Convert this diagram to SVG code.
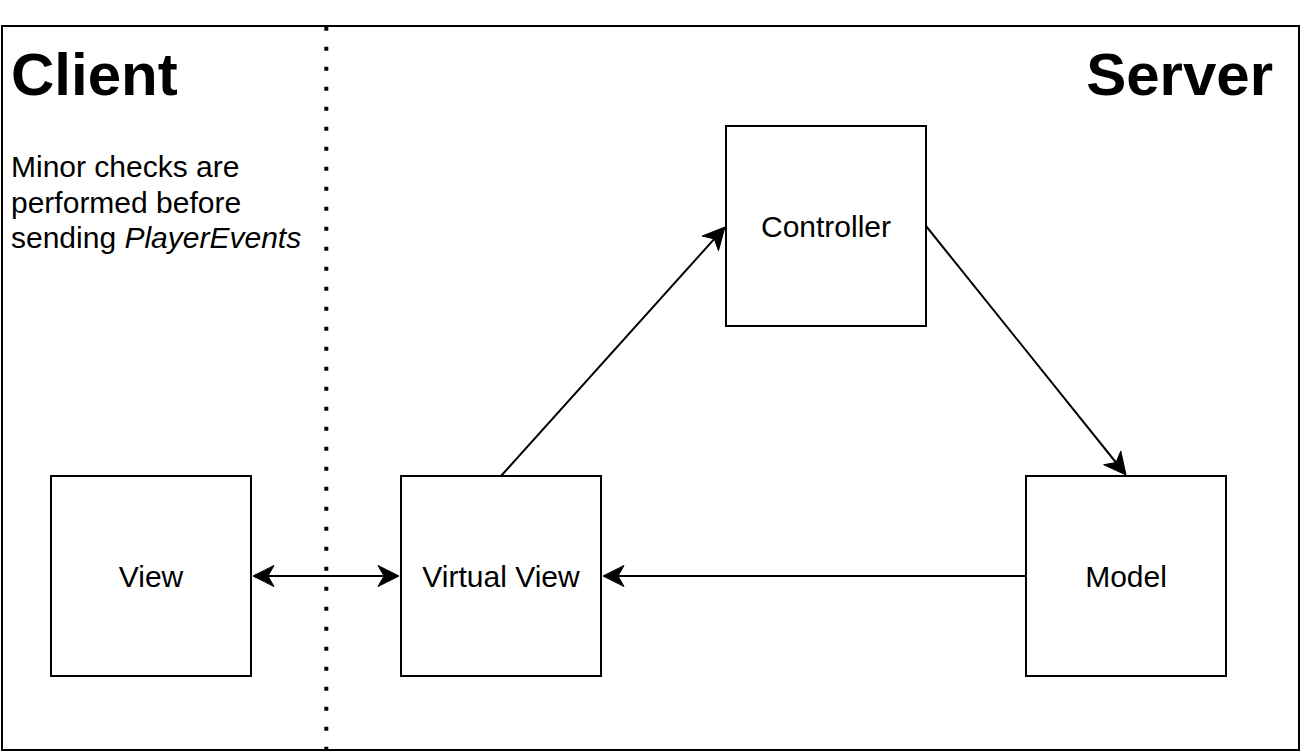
<svg xmlns="http://www.w3.org/2000/svg" width="1305" height="755" viewBox="0 0 1305 755">
<style>
.box{fill:#fff;stroke:#000;stroke-width:2}
.lbl{font-family:"Liberation Sans",Arial,sans-serif;font-size:30px;fill:#000;text-anchor:middle}
.title{font-family:"Liberation Sans",Arial,sans-serif;font-size:60px;font-weight:bold;fill:#000}
.note{font-family:"Liberation Sans",Arial,sans-serif;font-size:30px;fill:#000}
.edge{fill:none;stroke:#000;stroke-width:2}
.head{fill:#000;stroke:#000;stroke-width:1;stroke-linejoin:miter}
</style>
<rect width="1305" height="755" fill="#fff"/>
<g id="frame">
<rect x="2" y="26" width="1297" height="724" fill="none" stroke="#000" stroke-width="2"/>
<line x1="326.3" y1="26.7" x2="326.3" y2="751" stroke="#000" stroke-width="4" stroke-dasharray="4 16"/>
</g>
<g id="titles">
<text class="title" x="11" y="95">Client</text>
<text class="title" x="1273" y="95" text-anchor="end">Server</text>
<text class="note" x="11" y="177">Minor checks are</text>
<text class="note" x="11" y="213">performed before</text>
<text class="note" x="11" y="248">sending <tspan font-style="italic">PlayerEvents</tspan></text>
</g>
<g id="connectors">
<line class="edge" x1="268" y1="576" x2="384" y2="576"/>
<polygon class="head" points="253,576 274,565.5 268,576 274,586.5"/>
<polygon class="head" points="399,576 378,565.5 384,576 378,586.5"/>
<line class="edge" x1="501" y1="476" x2="714.3" y2="238.9"/>
<polygon class="head" points="725,227 718.47,250.72 714.3,238.9 702.11,236"/>
<line class="edge" x1="926" y1="226" x2="1116" y2="462.5"/>
<polygon class="head" points="1126,475 1103.64,464.74 1116,462.5 1120.8,450.96"/>
<line class="edge" x1="1026" y1="576" x2="618" y2="576"/>
<polygon class="head" points="603,576 624,565.5 618,576 624,586.5"/>
</g>
<g id="view">
<rect class="box" x="51" y="476" width="200" height="200"/>
<text class="lbl" x="151" y="587">View</text>
</g>
<g id="virtual-view">
<rect class="box" x="401" y="476" width="200" height="200"/>
<text class="lbl" x="501" y="587">Virtual View</text>
</g>
<g id="controller">
<rect class="box" x="726" y="126" width="200" height="200"/>
<text class="lbl" x="826" y="237">Controller</text>
</g>
<g id="model">
<rect class="box" x="1026" y="476" width="200" height="200"/>
<text class="lbl" x="1126" y="587">Model</text>
</g>
</svg>
